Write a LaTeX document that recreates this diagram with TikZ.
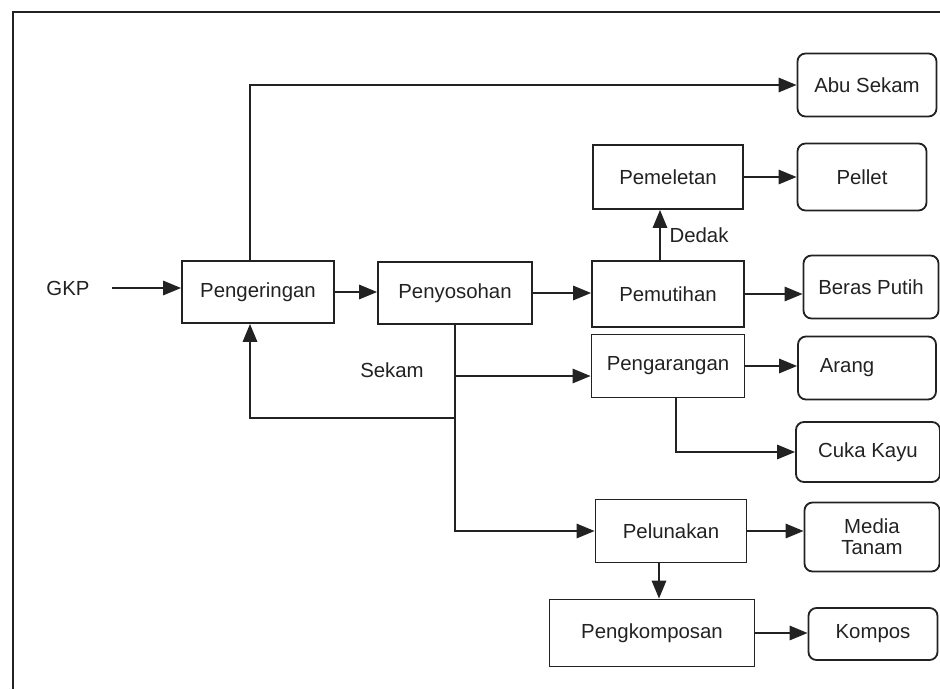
\documentclass[tikz,border=0pt]{standalone}
\usepackage{fontspec}
\setmainfont{Liberation Sans}
\usetikzlibrary{arrows.meta}
\definecolor{ink}{HTML}{222222}
\tikzset{
  font=\fontsize{14.5}{15}\selectfont,
  >={Triangle[length=4.5mm,width=3.6mm]},
  block/.style={draw=ink,line width=1.3pt,align=center,inner sep=0pt,text=ink},
  proc/.style={block},
  prod/.style={block,rounded corners=2mm},
  flow/.style={->,draw=ink,line width=1.3pt},
  link/.style={draw=ink,line width=1.3pt}
}
\begin{document}
\begin{tikzpicture}[x=0.25mm,y=-0.25mm]
  \useasboundingbox (0,0) rectangle (940,689);
  \draw[link] (13,689) -- (13,12) -- (940,12);

  \node[text=ink] (gkp) at (68,288) {GKP};
  \node[proc,minimum width=38mm,minimum height=15.5mm] (pgr) at (258,292) {Pengeringan};
  \node[proc,minimum width=38.5mm,minimum height=15.5mm] (pny) at (455,293) {Penyosohan};
  \node[proc,minimum width=37.5mm,minimum height=16mm] (pml) at (668,177) {Pemeletan};
  \node[proc,minimum width=38mm,minimum height=16.5mm] (pmt) at (668,294) {Pemutihan};
  \node[proc,minimum width=38.25mm,minimum height=15.75mm] (pga) at (668,366) {Pengarangan};
  \node[proc,minimum width=37.75mm,minimum height=15.75mm] (plk) at (671,531) {Pelunakan};
  \node[proc,minimum width=51.25mm,minimum height=16.75mm] (pkm) at (652,633) {Pengkomposan};
  \node[prod,minimum width=34.75mm,minimum height=15.75mm] (abu) at (867,85) {Abu Sekam};
  \node[prod,minimum width=32.25mm,minimum height=16.75mm] (pel) at (862,177) {Pellet};
  \node[prod,minimum width=33.75mm,minimum height=15.75mm] (brs) at (871,287) {Beras Putih};
  \node[prod,minimum width=34.5mm,minimum height=15.75mm] (arg) at (867,368) {Arang\hspace*{10mm}};
  \node[prod,minimum width=36mm,minimum height=15mm] (cuk) at (868,452) {Cuka Kayu};
  \node[prod,minimum width=33.75mm,minimum height=17.25mm] (mdt) at (872,537) {Media\\Tanam};
  \node[prod,minimum width=32.25mm,minimum height=13mm] (kmp) at (873,634) {Kompos};
  \node[text=ink] (skm) at (392,370) {Sekam};

  % sekam branches off the penyosohan spine
  \coordinate (fork) at (455,376);
  \coordinate (hub) at (455,418);

  \draw[flow] ([xshift=4.5mm]gkp.east) -- (gkp.east -| pgr.west);
  \draw[flow] (pgr.east) -- (pgr.east -| pny.west);
  \draw[flow] (pny.east) -- (pny.east -| pmt.west);
  \draw[flow] ([xshift=-2mm]pgr.north) |- (abu.west);
  \draw[flow] ([xshift=-2mm]pmt.north) -- ([xshift=-2mm]pmt.north |- pml.south) node[midway,right=1mm,text=ink]{Dedak};
  \draw[flow] (pml) -- (pel);
  \draw[flow] (pmt.east) -- (pmt.east -| brs.west);
  \draw[flow] (pny.south) |- (plk.west);
  \draw[flow] (fork) -- (fork -| pga.west);
  \draw[flow] (hub) -| ([xshift=-2mm]pgr.south);
  \draw[flow] (pga.east) -- (pga.east -| arg.west);
  \draw[flow] ([xshift=2mm]pga.south) |- (cuk.west);
  \draw[flow] (plk.east) -- (plk.east -| mdt.west);
  \draw[flow] ([xshift=-3mm]plk.south) -- ([xshift=-3mm]plk.south |- pkm.north);
  \draw[flow] (pkm.east) -- (pkm.east -| kmp.west);
\end{tikzpicture}
\end{document}
